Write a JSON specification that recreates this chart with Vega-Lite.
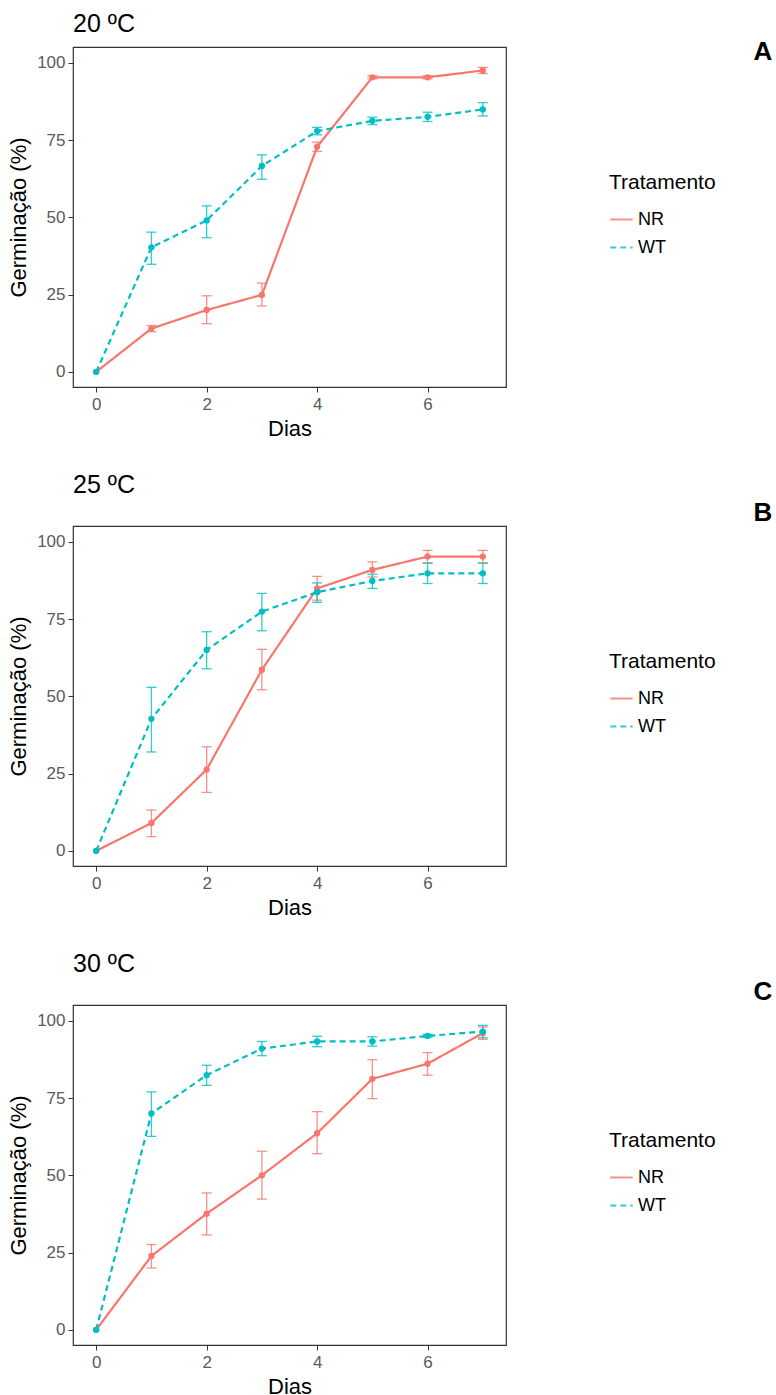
{
  "$schema": "https://vega.github.io/schema/vega-lite/v6.json",
  "background": "white",
  "padding": {"left": 7, "top": 11, "right": 5, "bottom": 5},
  "spacing": 32,
  "datasets": {
    "t20": [
      {"Dias": 0, "Germinacao": 0, "Tratamento": "NR"},
      {"Dias": 1, "Germinacao": 14.0, "lo": 13.0, "hi": 15.0, "Tratamento": "NR"},
      {"Dias": 2, "Germinacao": 20.0, "lo": 15.6, "hi": 24.6, "Tratamento": "NR"},
      {"Dias": 3, "Germinacao": 24.9, "lo": 21.3, "hi": 28.7, "Tratamento": "NR"},
      {"Dias": 4, "Germinacao": 72.8, "lo": 71.3, "hi": 74.3, "Tratamento": "NR"},
      {"Dias": 5, "Germinacao": 95.3, "lo": 94.8, "hi": 95.8, "Tratamento": "NR"},
      {"Dias": 6, "Germinacao": 95.3, "lo": 94.8, "hi": 95.8, "Tratamento": "NR"},
      {"Dias": 7, "Germinacao": 97.5, "lo": 96.5, "hi": 98.5, "Tratamento": "NR"},
      {"Dias": 0, "Germinacao": 0, "Tratamento": "WT"},
      {"Dias": 1, "Germinacao": 40.3, "lo": 34.8, "hi": 45.2, "Tratamento": "WT"},
      {"Dias": 2, "Germinacao": 49.0, "lo": 43.4, "hi": 53.7, "Tratamento": "WT"},
      {"Dias": 3, "Germinacao": 66.6, "lo": 62.3, "hi": 70.2, "Tratamento": "WT"},
      {"Dias": 4, "Germinacao": 77.9, "lo": 76.7, "hi": 79.1, "Tratamento": "WT"},
      {"Dias": 5, "Germinacao": 81.2, "lo": 80.0, "hi": 82.4, "Tratamento": "WT"},
      {"Dias": 6, "Germinacao": 82.5, "lo": 81.0, "hi": 84.0, "Tratamento": "WT"},
      {"Dias": 7, "Germinacao": 84.9, "lo": 82.8, "hi": 87.1, "Tratamento": "WT"}
    ],
    "t25": [
      {"Dias": 0, "Germinacao": 0, "Tratamento": "NR"},
      {"Dias": 1, "Germinacao": 9.0, "lo": 4.6, "hi": 13.2, "Tratamento": "NR"},
      {"Dias": 2, "Germinacao": 26.3, "lo": 18.9, "hi": 33.7, "Tratamento": "NR"},
      {"Dias": 3, "Germinacao": 58.6, "lo": 52.1, "hi": 65.2, "Tratamento": "NR"},
      {"Dias": 4, "Germinacao": 84.9, "lo": 81.1, "hi": 88.8, "Tratamento": "NR"},
      {"Dias": 5, "Germinacao": 90.9, "lo": 88.6, "hi": 93.5, "Tratamento": "NR"},
      {"Dias": 6, "Germinacao": 95.2, "lo": 93.1, "hi": 97.2, "Tratamento": "NR"},
      {"Dias": 7, "Germinacao": 95.2, "lo": 93.1, "hi": 97.2, "Tratamento": "NR"},
      {"Dias": 0, "Germinacao": 0, "Tratamento": "WT"},
      {"Dias": 1, "Germinacao": 42.7, "lo": 32.0, "hi": 52.9, "Tratamento": "WT"},
      {"Dias": 2, "Germinacao": 65.0, "lo": 58.9, "hi": 70.9, "Tratamento": "WT"},
      {"Dias": 3, "Germinacao": 77.4, "lo": 71.2, "hi": 83.3, "Tratamento": "WT"},
      {"Dias": 4, "Germinacao": 83.7, "lo": 80.4, "hi": 86.7, "Tratamento": "WT"},
      {"Dias": 5, "Germinacao": 87.3, "lo": 84.9, "hi": 89.5, "Tratamento": "WT"},
      {"Dias": 6, "Germinacao": 89.8, "lo": 86.5, "hi": 93.1, "Tratamento": "WT"},
      {"Dias": 7, "Germinacao": 89.8, "lo": 86.5, "hi": 93.1, "Tratamento": "WT"}
    ],
    "t30": [
      {"Dias": 0, "Germinacao": 0, "Tratamento": "NR"},
      {"Dias": 1, "Germinacao": 23.9, "lo": 20.0, "hi": 27.6, "Tratamento": "NR"},
      {"Dias": 2, "Germinacao": 37.6, "lo": 30.7, "hi": 44.3, "Tratamento": "NR"},
      {"Dias": 3, "Germinacao": 50.0, "lo": 42.3, "hi": 57.8, "Tratamento": "NR"},
      {"Dias": 4, "Germinacao": 63.6, "lo": 57.0, "hi": 70.6, "Tratamento": "NR"},
      {"Dias": 5, "Germinacao": 81.2, "lo": 74.8, "hi": 87.4, "Tratamento": "NR"},
      {"Dias": 6, "Germinacao": 86.1, "lo": 82.4, "hi": 89.7, "Tratamento": "NR"},
      {"Dias": 7, "Germinacao": 96.0, "lo": 94.0, "hi": 98.0, "Tratamento": "NR"},
      {"Dias": 0, "Germinacao": 0, "Tratamento": "WT"},
      {"Dias": 1, "Germinacao": 70.0, "lo": 62.6, "hi": 77.0, "Tratamento": "WT"},
      {"Dias": 2, "Germinacao": 82.4, "lo": 79.1, "hi": 85.6, "Tratamento": "WT"},
      {"Dias": 3, "Germinacao": 91.0, "lo": 88.7, "hi": 93.3, "Tratamento": "WT"},
      {"Dias": 4, "Germinacao": 93.3, "lo": 91.6, "hi": 95.0, "Tratamento": "WT"},
      {"Dias": 5, "Germinacao": 93.3, "lo": 91.8, "hi": 94.8, "Tratamento": "WT"},
      {"Dias": 6, "Germinacao": 95.1, "lo": 94.6, "hi": 95.6, "Tratamento": "WT"},
      {"Dias": 7, "Germinacao": 96.5, "lo": 94.5, "hi": 98.5, "Tratamento": "WT"}
    ]
  },
  "resolve": {
    "scale": {"color": "independent", "strokeDash": "independent"},
    "legend": {"color": "independent", "strokeDash": "independent"}
  },
  "vconcat": [
    {
      "width": 433, "height": 340,
      "title": {"text": "20 ºC"},
      "layer": [
        {
          "data": {"name": "t20"},
          "mark": {"type": "errorbar", "ticks": true, "size": 10, "thickness": 1.3, "opacity": 0.8},
          "encoding": {
            "x": {"field": "Dias", "type": "quantitative", "scale": {"domain": [-0.42, 7.42], "nice": false}, "axis": {"values": [0, 2, 4, 6], "title": "Dias"}},
            "y": {"field": "lo", "type": "quantitative", "scale": {"domain": [-4.9, 105.1], "nice": false, "zero": false}, "axis": {"values": [0, 25, 50, 75, 100], "title": "Germinação (%)"}},
            "y2": {"field": "hi"},
            "color": {"field": "Tratamento", "type": "nominal", "scale": {"domain": ["NR", "WT"], "range": ["#F8766D", "#00BFC4"]}, "legend": {"orient": "none", "legendX": 536, "legendY": 125}}
          }
        },
        {
          "data": {"name": "t20"},
          "mark": {"type": "line", "strokeWidth": 2.2},
          "encoding": {
            "x": {"field": "Dias", "type": "quantitative", "title": "Dias"},
            "y": {"field": "Germinacao", "type": "quantitative", "title": "Germinação (%)"},
            "color": {"field": "Tratamento", "type": "nominal", "legend": {"orient": "none", "legendX": 536, "legendY": 125}},
            "strokeDash": {"field": "Tratamento", "type": "nominal", "scale": {"domain": ["NR", "WT"], "range": [[1, 0], [6, 4]]}, "legend": {"orient": "none", "legendX": 536, "legendY": 125}}
          }
        },
        {
          "data": {"name": "t20"},
          "mark": {"type": "point", "filled": true, "size": 40, "opacity": 1},
          "encoding": {
            "x": {"field": "Dias", "type": "quantitative", "title": "Dias"},
            "y": {"field": "Germinacao", "type": "quantitative", "title": "Germinação (%)"},
            "color": {"field": "Tratamento", "type": "nominal", "legend": {"orient": "none", "legendX": 536, "legendY": 125}}
          }
        },
        {
          "data": {"values": [{"letter": "A"}]},
          "mark": {"type": "text", "fontSize": 26, "fontWeight": "bold", "align": "center", "baseline": "middle", "color": "#000000"},
          "encoding": {
            "x": {"datum": 12.07, "type": "quantitative"},
            "y": {"datum": 103.5, "type": "quantitative"},
            "text": {"field": "letter"}
          }
        }
      ]
    },
    {
      "width": 433, "height": 340,
      "title": {"text": "25 ºC"},
      "layer": [
        {
          "data": {"name": "t25"},
          "mark": {"type": "errorbar", "ticks": true, "size": 10, "thickness": 1.3, "opacity": 0.8},
          "encoding": {
            "x": {"field": "Dias", "type": "quantitative", "scale": {"domain": [-0.42, 7.42], "nice": false}, "axis": {"values": [0, 2, 4, 6], "title": "Dias"}},
            "y": {"field": "lo", "type": "quantitative", "scale": {"domain": [-4.9, 105.1], "nice": false, "zero": false}, "axis": {"values": [0, 25, 50, 75, 100], "title": "Germinação (%)"}},
            "y2": {"field": "hi"},
            "color": {"field": "Tratamento", "type": "nominal", "scale": {"domain": ["NR", "WT"], "range": ["#F8766D", "#00BFC4"]}, "legend": {"orient": "none", "legendX": 536, "legendY": 125}}
          }
        },
        {
          "data": {"name": "t25"},
          "mark": {"type": "line", "strokeWidth": 2.2},
          "encoding": {
            "x": {"field": "Dias", "type": "quantitative", "title": "Dias"},
            "y": {"field": "Germinacao", "type": "quantitative", "title": "Germinação (%)"},
            "color": {"field": "Tratamento", "type": "nominal", "legend": {"orient": "none", "legendX": 536, "legendY": 125}},
            "strokeDash": {"field": "Tratamento", "type": "nominal", "scale": {"domain": ["NR", "WT"], "range": [[1, 0], [6, 4]]}, "legend": {"orient": "none", "legendX": 536, "legendY": 125}}
          }
        },
        {
          "data": {"name": "t25"},
          "mark": {"type": "point", "filled": true, "size": 40, "opacity": 1},
          "encoding": {
            "x": {"field": "Dias", "type": "quantitative", "title": "Dias"},
            "y": {"field": "Germinacao", "type": "quantitative", "title": "Germinação (%)"},
            "color": {"field": "Tratamento", "type": "nominal", "legend": {"orient": "none", "legendX": 536, "legendY": 125}}
          }
        },
        {
          "data": {"values": [{"letter": "B"}]},
          "mark": {"type": "text", "fontSize": 26, "fontWeight": "bold", "align": "center", "baseline": "middle", "color": "#000000"},
          "encoding": {
            "x": {"datum": 12.07, "type": "quantitative"},
            "y": {"datum": 109.3, "type": "quantitative"},
            "text": {"field": "letter"}
          }
        }
      ]
    },
    {
      "width": 433, "height": 340,
      "title": {"text": "30 ºC"},
      "layer": [
        {
          "data": {"name": "t30"},
          "mark": {"type": "errorbar", "ticks": true, "size": 10, "thickness": 1.3, "opacity": 0.8},
          "encoding": {
            "x": {"field": "Dias", "type": "quantitative", "scale": {"domain": [-0.42, 7.42], "nice": false}, "axis": {"values": [0, 2, 4, 6], "title": "Dias"}},
            "y": {"field": "lo", "type": "quantitative", "scale": {"domain": [-4.9, 105.1], "nice": false, "zero": false}, "axis": {"values": [0, 25, 50, 75, 100], "title": "Germinação (%)"}},
            "y2": {"field": "hi"},
            "color": {"field": "Tratamento", "type": "nominal", "scale": {"domain": ["NR", "WT"], "range": ["#F8766D", "#00BFC4"]}, "legend": {"orient": "none", "legendX": 536, "legendY": 125}}
          }
        },
        {
          "data": {"name": "t30"},
          "mark": {"type": "line", "strokeWidth": 2.2},
          "encoding": {
            "x": {"field": "Dias", "type": "quantitative", "title": "Dias"},
            "y": {"field": "Germinacao", "type": "quantitative", "title": "Germinação (%)"},
            "color": {"field": "Tratamento", "type": "nominal", "legend": {"orient": "none", "legendX": 536, "legendY": 125}},
            "strokeDash": {"field": "Tratamento", "type": "nominal", "scale": {"domain": ["NR", "WT"], "range": [[1, 0], [6, 4]]}, "legend": {"orient": "none", "legendX": 536, "legendY": 125}}
          }
        },
        {
          "data": {"name": "t30"},
          "mark": {"type": "point", "filled": true, "size": 40, "opacity": 1},
          "encoding": {
            "x": {"field": "Dias", "type": "quantitative", "title": "Dias"},
            "y": {"field": "Germinacao", "type": "quantitative", "title": "Germinação (%)"},
            "color": {"field": "Tratamento", "type": "nominal", "legend": {"orient": "none", "legendX": 536, "legendY": 125}}
          }
        },
        {
          "data": {"values": [{"letter": "C"}]},
          "mark": {"type": "text", "fontSize": 26, "fontWeight": "bold", "align": "center", "baseline": "middle", "color": "#000000"},
          "encoding": {
            "x": {"datum": 12.07, "type": "quantitative"},
            "y": {"datum": 109.3, "type": "quantitative"},
            "text": {"field": "letter"}
          }
        }
      ]
    }
  ],
  "config": {
    "font": "Liberation Sans",
    "view": {"stroke": "#333333", "strokeWidth": 1.2},
    "axis": {
      "grid": false, "domain": false,
      "tickColor": "#333333", "tickSize": 5, "tickWidth": 1,
      "labelColor": "#5a5a5a", "labelFontSize": 17, "labelFont": "Liberation Sans",
      "titleFont": "Liberation Sans", "titleFontSize": 22, "titleFontWeight": "normal", "titleColor": "#000000"
    },
    "axisX": {"labelPadding": 4, "titlePadding": 6},
    "axisY": {"labelPadding": 3, "titlePadding": 6},
    "legend": {
      "titleFont": "Liberation Sans", "titleFontSize": 21, "titleFontWeight": "normal", "titleColor": "#000000",
      "labelFont": "Liberation Sans", "labelFontSize": 18, "labelColor": "#000000",
      "symbolType": "stroke", "symbolSize": 500, "symbolStrokeWidth": 2,
      "titlePadding": 14, "rowPadding": 6, "padding": 0
    },
    "title": {"anchor": "start", "frame": "group", "fontSize": 25, "fontWeight": "normal", "color": "#000000", "font": "Liberation Sans", "offset": 2}
  }
}
